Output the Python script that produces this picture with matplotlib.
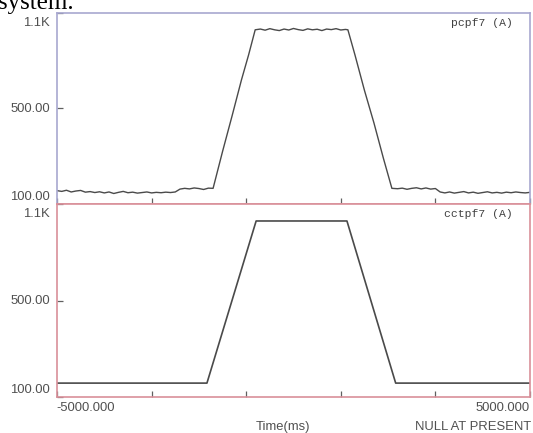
import matplotlib
matplotlib.use("Agg")
import matplotlib.pyplot as plt
from matplotlib.transforms import ScaledTranslation

# measured channel pcpf7 (A), time in ms
pcpf7_t = [-5000, -4900, -4800, -4700, -4600, -4500, -4400, -4300, -4200, -4100,
           -4000, -3900, -3800, -3700, -3600, -3500, -3400, -3300, -3200, -3100,
           -3000, -2900, -2800, -2700, -2600, -2500, -2400, -2300, -2200, -2100,
           -2000, -1900, -1800, -1700, -1500, -1300, -1100, -950, -810,
           -700, -600, -500, -400, -300, -200, -100, 0, 100, 200, 300, 400, 500,
           600, 700, 800, 900, 1000, 1100, 1150,
           1300, 1500, 1700, 1900, 2080,
           2200, 2300, 2400, 2500, 2600, 2700, 2800, 2900, 3000, 3100,
           3200, 3300, 3400, 3500, 3600, 3700, 3800, 3900, 4000, 4100,
           4200, 4300, 4400, 4500, 4600, 4700, 4800, 4900, 5000]
pcpf7_v = [170, 166, 172, 163, 168, 171, 162, 165, 160, 164,
           158, 163, 155, 161, 166, 159, 162, 157, 160, 163,
           158, 161, 159, 162, 160, 163, 178, 182, 179, 184,
           181, 176, 183, 182, 375, 560, 750, 880, 1012,
           1016, 1010, 1018, 1012, 1008, 1016, 1011, 1019, 1013, 1009, 1017, 1012, 1015,
           1008, 1016, 1013, 1018, 1011, 1014, 1012,
           880, 695, 525, 340, 182,
           180, 183, 177, 182, 185, 179, 184, 178, 181, 163,
           158, 163, 157, 161, 165, 158, 162, 156, 160, 164,
           158, 161, 157, 162, 159, 163, 160, 158, 161]

# command channel cctpf7 (A)
cctpf7_t = [-5000, -1830, -790, 1130, 2160, 5000]
cctpf7_v = [172, 172, 1012, 1012, 172, 172]

channel_names = ["pcpf7 (A)", "cctpf7 (A)"]
ytick_vals = [100, 600, 1100]
ytick_text = ["100.00", "500.00", "1.1K"]
xtick_vals = [-5000, -3000, -1000, 1000, 3000, 5000]

W, H = 533, 433
fig = plt.figure(figsize=(W / 100, H / 100), dpi=100)
fig.patch.set_facecolor("white")

left, right = 57, 530
ax1 = fig.add_axes([left / W, 1 - 204 / H, (right - left) / W, 191 / H])
ax2 = fig.add_axes([left / W, 1 - 397 / H, (right - left) / W, 193 / H])

blue_frame = "#a8a8d0"
red_frame = "#d9909a"
label_col = "#505050"
trace_col = "#4a4a4a"
tick_font = dict(family="Liberation Sans", size=9.4, color=label_col)


def px(dx, dy):
    return ScaledTranslation(dx / 100, dy / 100, fig.dpi_scale_trans)


def style_panel(ax, frame, name):
    ax.set_xlim(-5000, 5000)
    ax.set_ylim(100, 1100)
    for side in ["left", "top", "right", "bottom"]:
        ax.spines[side].set_color(frame)
        ax.spines[side].set_linewidth(1.2)
    ax.spines["bottom"].set_color(red_frame)
    ax.set_xticks(xtick_vals)
    ax.set_yticks(ytick_vals)
    ax.set_xticklabels([])
    ax.set_yticklabels([])
    ax.tick_params(direction="in", length=4, width=0.9, color="#606060",
                   top=False, right=False)
    # y labels drawn beside the frame
    yt = ax.get_yaxis_transform()
    ax.text(0, ytick_vals[0], ytick_text[0], ha="right", va="bottom",
            transform=yt + px(-7, 1), **tick_font)
    ax.text(0, ytick_vals[1], ytick_text[1], ha="right", va="center",
            transform=yt + px(-7, 0), **tick_font)
    ax.text(0, ytick_vals[2], ytick_text[2], ha="right", va="top",
            transform=yt + px(-7, -4), **tick_font)
    ax.text(1, 1, name, ha="right", va="top", transform=ax.transAxes + px(-17, -5),
            family="Liberation Mono", size=8.2, color="#404040")


style_panel(ax1, blue_frame, channel_names[0])
style_panel(ax2, red_frame, channel_names[1])

ax1.plot(pcpf7_t, pcpf7_v, color=trace_col, lw=1.0)
ax2.plot(cctpf7_t, cctpf7_v, color=trace_col, lw=1.2)

xt = ax2.get_xaxis_transform()
ax2.text(-5000, 0, "-5000.000", ha="left", va="top", transform=xt + px(-1, -5), **tick_font)
ax2.text(5000, 0, "5000.000", ha="right", va="top", transform=xt + px(0, -5), **tick_font)

fig.text(283 / W, 1 - 427 / H, "Time(ms)", ha="center", va="center", **tick_font)
fig.text(531 / W, 1 - 427 / H, "NULL AT PRESENT", ha="right", va="center", **tick_font)
fig.text(-2 / W, 1 - 9 / H, "system.", ha="left", va="baseline",
         family="Liberation Serif", size=18, color="black")

fig.savefig("out.png", dpi=100)
